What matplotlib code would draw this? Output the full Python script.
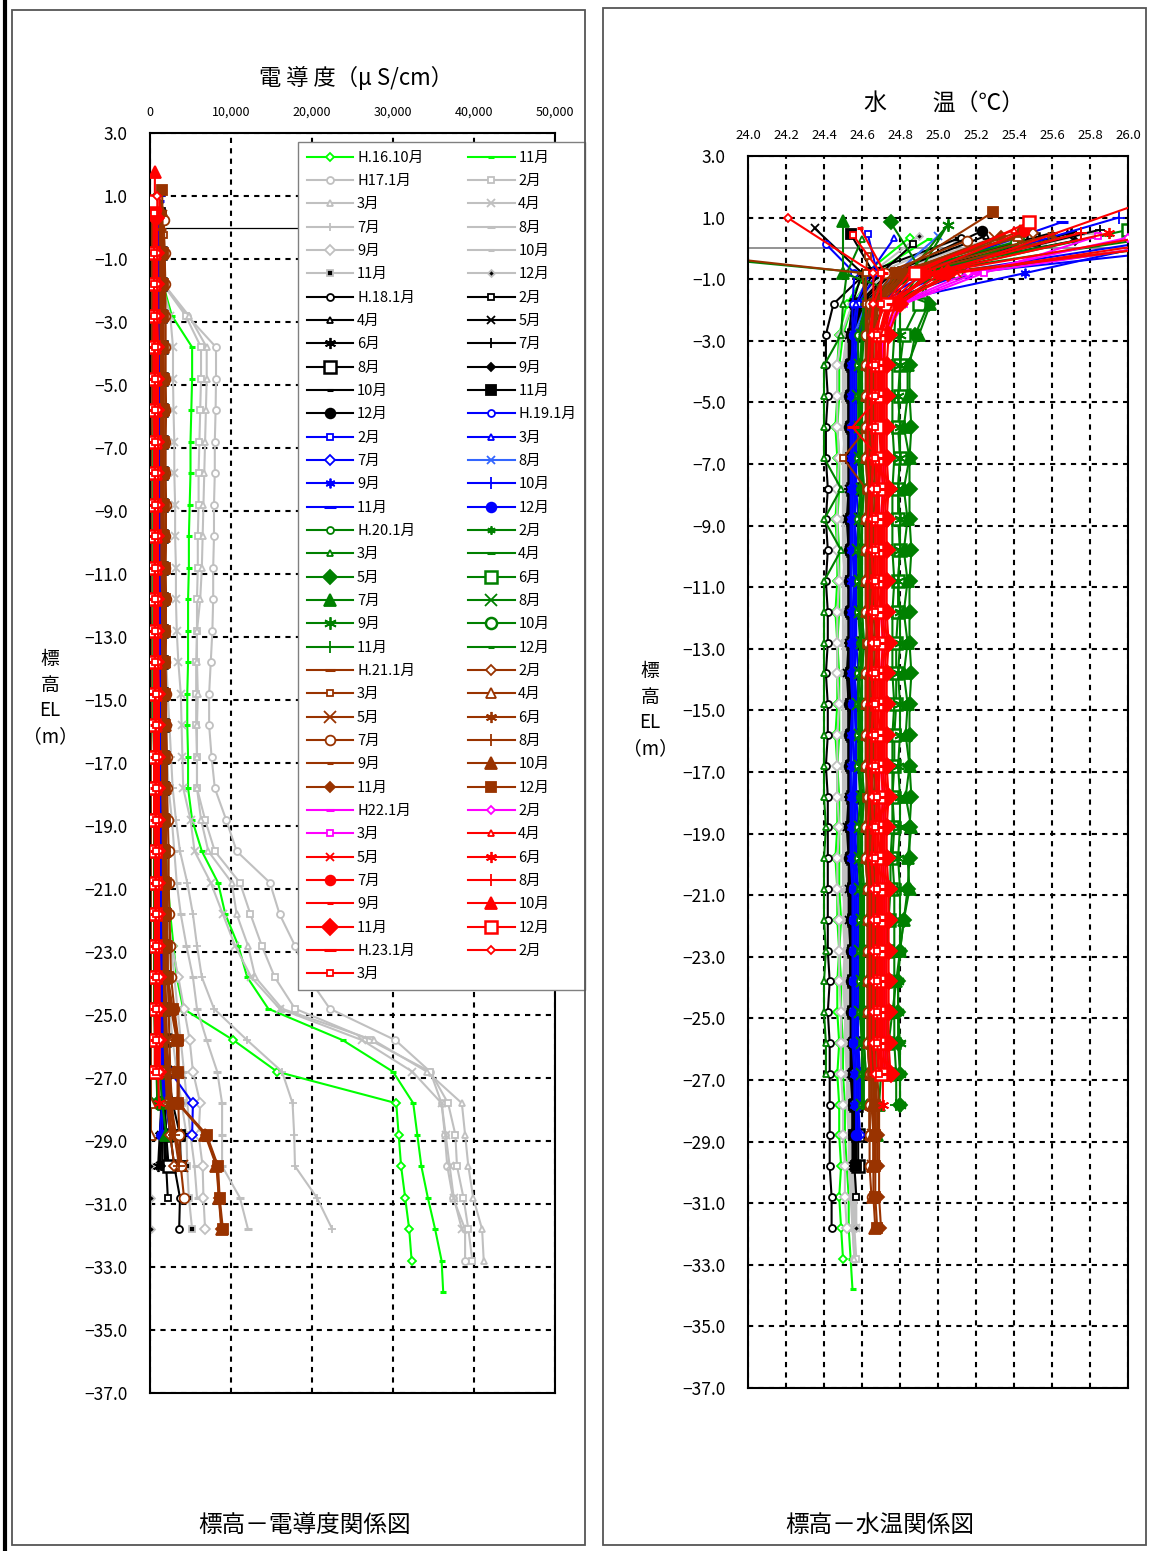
import matplotlib
matplotlib.use('Agg')
import matplotlib.pyplot as plt
from matplotlib.patches import Rectangle
from matplotlib.lines import Line2D
from matplotlib.ticker import FuncFormatter

plt.rcParams['font.family'] = ['Noto Sans CJK JP', 'DejaVu Sans']
plt.rcParams['axes.unicode_minus'] = True

# ---------------- DATA ----------------
# measurement elevations below the surface reading (EL, m)
elev_levels = [-0.8, -1.8, -2.8, -3.8, -4.8, -5.8, -6.8, -7.8, -8.8, -9.8, -10.8, -11.8,
               -12.8, -13.8, -14.8, -15.8, -16.8, -17.8, -18.8, -19.8, -20.8, -21.8, -22.8,
               -23.8, -24.8, -25.8, -26.8, -27.8, -28.8, -29.8, -30.8, -31.8, -32.8, -33.8]

labels = ['H.16.10月', '11月',
          'H17.1月', '2月', '3月', '4月', '7月', '8月', '9月', '10月', '11月', '12月',
          'H.18.1月', '2月', '4月', '5月', '6月', '7月', '8月', '9月', '10月', '11月', '12月',
          'H.19.1月', '2月', '3月', '7月', '8月', '9月', '10月', '11月', '12月',
          'H.20.1月', '2月', '3月', '4月', '5月', '6月', '7月', '8月', '9月', '10月', '11月', '12月',
          'H.21.1月', '2月', '3月', '4月', '5月', '6月', '7月', '8月', '9月', '10月', '11月', '12月',
          'H22.1月', '2月', '3月', '4月', '5月', '6月', '7月', '8月', '9月', '10月', '11月', '12月',
          'H.23.1月', '2月', '3月']

# elevation of the surface (first) reading of each survey
top_el = [0.35, 0.30,
          0.20, 0.20, 0.25, 0.30, 0.45, 0.50, 0.40, 0.35, 0.30, 0.40,
          0.35, 0.15, 0.40, 0.66, 0.50, 0.60, 0.30, 0.25, 0.50, 0.47, 0.56,
          0.14, 0.47, 0.34, 0.30, 0.40, 0.50, 1.00, 0.85, 0.30,
          0.20, 0.76, 0.30, -0.20, 0.85, 0.60, 0.90, 0.50, 0.76, 0.40, 0.20, 0.45,
          -0.05, 0.50, -0.25, 0.40, 0.35, 0.45, 0.25, 0.50, 0.30, 0.55, 0.40, 1.18,
          0.50, 0.35, 0.40, 0.60, 0.40, 0.50, 0.55, 0.50, 0.66, 1.75, 0.30, 0.85,
          0.60, 0.99, 0.45]

# electric conductivity (uS/cm): surface, then elev_levels in order
cond_h16 = [
    [800, 900, 1000, 1000, 1100, 1100, 1100, 1200, 1200, 1200, 1300, 1300, 1300, 1400, 1400, 1500, 1500, 1600, 1700, 1800, 2000, 2200, 2500, 2900, 3300, 4100, 10300, 15700, 30400, 30700, 31000, 31500, 32000, 32300],
    [1000, 1200, 1600, 2700, 5200, 5200, 5100, 5000, 5000, 4900, 4800, 4800, 4700, 4700, 4700, 4600, 4600, 4700, 4700, 5200, 6400, 8400, 9300, 10900, 12000, 14600, 23800, 30000, 32500, 33000, 33500, 34300, 35200, 36000, 36200],
]
cond_h17 = [
    [1200, 1400, 1700, 4600, 8150, 8150, 8100, 8000, 8000, 7900, 7900, 7800, 7800, 7700, 7500, 7300, 7300, 7600, 8000, 9400, 10700, 14800, 16000, 17900, 19500, 22200, 30300, 34600, 36000, 36400, 36700, 37400, 38900, 38900],
    [1100, 1300, 1600, 4400, 6300, 6300, 6200, 6100, 6000, 6000, 5900, 5900, 5800, 5800, 5700, 5700, 5700, 5800, 5800, 6800, 8000, 11100, 12400, 13800, 15400, 17900, 27200, 34600, 36800, 37700, 37900, 38700, 39300, 39800],
    [1100, 1300, 1700, 4800, 7000, 7000, 6900, 6800, 6700, 6600, 6500, 6400, 6200, 5800, 5800, 5900, 5800, 5800, 5800, 6300, 7200, 10100, 10700, 12100, 13000, 16300, 27600, 34200, 38500, 38900, 39300, 39900, 41000, 41200],
    [1000, 1200, 1500, 2500, 2840, 2840, 2900, 3000, 3000, 3100, 3100, 3200, 3200, 3300, 3500, 3800, 3900, 4000, 4100, 5000, 5500, 7500, 9000, 10500, 12500, 16000, 26200, 32400, 36000, 36500, 37000, 37500, 38500],
    [900, 1100, 1200, 1300, 1400, 1500, 1500, 1600, 1600, 1700, 1700, 1800, 1800, 1900, 2000, 2200, 2400, 2600, 2800, 3200, 3700, 4600, 5300, 5800, 6400, 7900, 12000, 16300, 17600, 17800, 17900, 20600, 22500],
    [900, 1000, 1100, 1200, 1300, 1300, 1400, 1400, 1500, 1500, 1600, 1600, 1700, 1700, 1800, 1900, 2000, 2100, 2300, 2700, 3000, 3300, 3800, 4500, 5300, 5800, 7000, 8300, 8900, 8900, 8900, 11100, 12100],
    [900, 1000, 1000, 1100, 1100, 1200, 1200, 1200, 1300, 1300, 1300, 1400, 1400, 1400, 1500, 1500, 1600, 1600, 1700, 1800, 1900, 2000, 2200, 2700, 3500, 4200, 4900, 5300, 6200, 6000, 6500, 6600, 6800],
    [900, 1000, 1100, 1200, 1200, 1300, 1300, 1300, 1400, 1400, 1400, 1500, 1500, 1500, 1600, 1600, 1700, 1700, 1800, 1900, 2000, 2100, 2300, 2600, 3000, 3400, 3800, 4200, 4600, 5000, 5500, 5800],
    [800, 900, 1000, 1000, 1100, 1100, 1100, 1200, 1200, 1200, 1300, 1300, 1300, 1300, 1400, 1400, 1400, 1500, 1500, 1600, 1600, 1700, 1800, 1900, 2100, 2400, 2800, 3300, 3900, 4500, 4600, 4800, 5200],
    [300, 250, 200, 150, 120, 110, 100, 100, 110, 100, 100, 110, 100, 100, 120, 100, 100, 110, 100, 100, 120, 100, 110, 100, 100, 120, 110, 100, 100, 110, 100, 120, 100],
]
cond_h18 = [
    [900, 1000, 1100, 1100, 1100, 1200, 1200, 1200, 1200, 1200, 1300, 1300, 1300, 1300, 1300, 1400, 1400, 1400, 1400, 1500, 1500, 1500, 1600, 1600, 1700, 1700, 1800, 1900, 2000, 2500, 3000, 3700, 3600],
    [1000, 1100, 1200, 1200, 1200, 1300, 1300, 1300, 1300, 1300, 1300, 1400, 1400, 1400, 1400, 1400, 1500, 1500, 1500, 1500, 1500, 1600, 1600, 1600, 1700, 1700, 1700, 1800, 1800, 1900, 2000, 2200],
    [1000, 1100, 1100, 1200, 1200, 1200, 1200, 1300, 1300, 1300, 1300, 1300, 1300, 1400, 1400, 1400, 1400, 1400, 1500, 1500, 1500, 1500, 1500, 1600, 1600, 1600, 1700, 1700, 1700, 1800, 1800],
    [1100, 1200, 1200, 1200, 1300, 1300, 1300, 1300, 1300, 1400, 1400, 1400, 1400, 1400, 1400, 1500, 1500, 1500, 1500, 1500, 1500, 1600, 1600, 1600, 1600, 1600, 1700, 1700, 1500, 1300, 1200],
    [1000, 1100, 1100, 1100, 1200, 1200, 1200, 1200, 1200, 1200, 1300, 1300, 1300, 1300, 1300, 1300, 1300, 1400, 1400, 1400, 1400, 1400, 1400, 1500, 1500, 1500, 1500, 1600, 1400, 1200, 1000],
    [1200, 1300, 1300, 1300, 1300, 1400, 1400, 1400, 1400, 1400, 1400, 1500, 1500, 1500, 1500, 1500, 1500, 1500, 1600, 1600, 1600, 1600, 1600, 1700, 1700, 1700, 1700, 1800, 1700, 1600, 1500],
    [1100, 1200, 1200, 1200, 1300, 1300, 1300, 1300, 1300, 1300, 1400, 1400, 1400, 1400, 1400, 1400, 1500, 1500, 1500, 1500, 1500, 1500, 1600, 1600, 1600, 1600, 1700, 1700, 1800, 2000, 2300],
    [1000, 1100, 1100, 1200, 1200, 1200, 1200, 1200, 1300, 1300, 1300, 1300, 1300, 1300, 1400, 1400, 1400, 1400, 1400, 1400, 1500, 1500, 1500, 1500, 1500, 1600, 1600, 1600, 1500, 1400, 1300],
    [1100, 1200, 1200, 1200, 1200, 1300, 1300, 1300, 1300, 1300, 1300, 1400, 1400, 1400, 1400, 1400, 1400, 1500, 1500, 1500, 1500, 1500, 1600, 1600, 1600, 1600, 1700, 1700, 1800, 1900],
    [1200, 1300, 1300, 1300, 1400, 1400, 1400, 1400, 1400, 1500, 1500, 1500, 1500, 1500, 1500, 1600, 1600, 1600, 1600, 1600, 1700, 1700, 1700, 1800, 1800, 1900, 2000, 2200, 2800, 3700, 3800],
    [1000, 1100, 1100, 1100, 1200, 1200, 1200, 1200, 1200, 1300, 1300, 1300, 1300, 1300, 1300, 1400, 1400, 1400, 1400, 1400, 1400, 1500, 1500, 1500, 1500, 1600, 1600, 1700, 1800, 2000],
]
cond_h19 = [
    [900, 1000, 1000, 1000, 1100, 1100, 1100, 1100, 1100, 1100, 1200, 1200, 1200, 1200, 1200, 1200, 1200, 1300, 1300, 1300, 1300, 1300, 1300, 1400, 1400, 1400, 1400, 1500, 1500, 1200],
    [1000, 1100, 1100, 1100, 1100, 1200, 1200, 1200, 1200, 1200, 1200, 1300, 1300, 1300, 1300, 1300, 1300, 1300, 1400, 1400, 1400, 1400, 1400, 1400, 1500, 1500, 1500, 1600, 2000, 2500],
    [900, 1000, 1000, 1000, 1000, 1100, 1100, 1100, 1100, 1100, 1100, 1100, 1200, 1200, 1200, 1200, 1200, 1200, 1200, 1300, 1300, 1300, 1300, 1300, 1300, 1400, 1400, 1500, 1600],
    [1000, 1100, 1100, 1100, 1100, 1100, 1200, 1200, 1200, 1200, 1200, 1200, 1300, 1300, 1300, 1300, 1300, 1300, 1400, 1400, 1400, 1400, 1500, 1500, 1500, 1600, 1800, 2500, 5300, 5200],
    [900, 1000, 1000, 1100, 1100, 1100, 1100, 1100, 1100, 1200, 1200, 1200, 1200, 1200, 1200, 1300, 1300, 1300, 1300, 1300, 1300, 1400, 1400, 1400, 1400, 1500, 1500, 1600, 1800],
    [1000, 1000, 1100, 1100, 1100, 1100, 1200, 1200, 1200, 1200, 1200, 1200, 1200, 1300, 1300, 1300, 1300, 1300, 1300, 1400, 1400, 1400, 1400, 1400, 1500, 1500, 1500, 1600, 1700],
    [1100, 1100, 1100, 1200, 1200, 1200, 1200, 1200, 1300, 1300, 1300, 1300, 1300, 1300, 1300, 1400, 1400, 1400, 1400, 1400, 1400, 1500, 1500, 1500, 1500, 1600, 1600, 1700, 1800],
    [1000, 1100, 1100, 1100, 1100, 1200, 1200, 1200, 1200, 1200, 1200, 1200, 1300, 1300, 1300, 1300, 1300, 1300, 1300, 1400, 1400, 1400, 1400, 1400, 1400, 1500, 1500, 1600, 1700],
    [900, 1000, 1000, 1000, 1100, 1100, 1100, 1100, 1100, 1200, 1200, 1200, 1200, 1200, 1200, 1200, 1300, 1300, 1300, 1300, 1300, 1300, 1400, 1400, 1400, 1400, 1500, 1500, 1600, 1500],
]
cond_h20 = [
    [500, 500, 500, 500, 500, 600, 600, 600, 600, 600, 600, 600, 600, 600, 700, 700, 700, 700, 700, 700, 700, 700, 800, 800, 800, 800, 800, 900, 900],
    [400, 400, 400, 500, 500, 500, 500, 500, 500, 500, 600, 600, 600, 600, 600, 600, 600, 600, 700, 700, 700, 700, 700, 700, 700, 800, 800, 800, 900],
    [300, 300, 300, 300, 300, 300, 400, 400, 400, 400, 400, 400, 400, 400, 400, 400, 400, 500, 500, 500, 500, 500, 500, 500, 500, 500, 600, 600],
    [400, 400, 400, 400, 500, 500, 500, 500, 500, 500, 500, 500, 600, 600, 600, 600, 600, 600, 600, 600, 700, 700, 700, 700, 700, 700, 800, 800],
    [500, 500, 500, 500, 600, 600, 600, 600, 600, 600, 600, 600, 700, 700, 700, 700, 700, 700, 700, 800, 800, 800, 800, 800, 800, 900, 900, 900, 1000],
    [600, 600, 600, 600, 600, 700, 700, 700, 700, 700, 700, 700, 700, 800, 800, 800, 800, 800, 800, 800, 900, 900, 900, 900, 900, 1000, 1000, 1000],
    [600, 600, 600, 700, 700, 700, 700, 700, 700, 700, 800, 800, 800, 800, 800, 800, 800, 900, 900, 900, 900, 900, 900, 1000, 1000, 1000, 1100, 1200, 1500, 2000],
    [500, 500, 500, 500, 500, 500, 600, 600, 600, 600, 600, 600, 600, 600, 600, 700, 700, 700, 700, 700, 700, 700, 800, 800, 800, 800, 800, 900, 900],
    [500, 500, 600, 600, 600, 600, 600, 600, 700, 700, 700, 700, 700, 700, 700, 700, 800, 800, 800, 800, 800, 800, 900, 900, 900, 900, 1000, 1000, 1100],
    [400, 400, 400, 400, 400, 500, 500, 500, 500, 500, 500, 500, 500, 500, 600, 600, 600, 600, 600, 600, 600, 600, 700, 700, 700, 700, 700, 800],
    [500, 500, 500, 500, 600, 600, 600, 600, 600, 600, 600, 700, 700, 700, 700, 700, 700, 700, 700, 800, 800, 800, 800, 800, 900, 900, 900, 1000, 1000],
    [400, 400, 400, 500, 500, 500, 500, 500, 500, 500, 500, 500, 600, 600, 600, 600, 600, 600, 600, 600, 600, 700, 700, 700, 700, 700, 700, 800],
]
cond_h21 = [
    [1300, 1400, 1400, 1400, 1400, 1500, 1500, 1500, 1500, 1500, 1500, 1500, 1500, 1600, 1600, 1600, 1600, 1600, 1600, 1600, 1700, 1700, 1700, 1700, 1800, 1800, 1900, 2000, 2200, 2500],
    [1200, 1300, 1300, 1300, 1400, 1400, 1400, 1400, 1400, 1400, 1500, 1500, 1500, 1500, 1500, 1500, 1500, 1600, 1600, 1600, 1600, 1600, 1700, 1700, 1700, 1800, 1800, 1900, 2100, 2500, 3000],
    [1700, 1800, 1800, 1900, 1900, 1900, 2000, 1900, 1900, 1900, 2000, 1900, 1900, 2000, 1900, 1900, 2000, 1900, 1900, 2000, 2000, 2100, 2100, 2200, 2200, 2300, 2400, 2500, 2700, 2900],
    [150, 120, 100, 100, 110, 100, 100, 120, 100, 100, 110, 100, 100, 120, 100, 100, 110, 100, 100, 120, 100, 110, 100, 100, 120, 100, 110, 100, 120, 100],
    [1300, 1400, 1400, 1400, 1400, 1500, 1500, 1500, 1500, 1500, 1500, 1500, 1600, 1600, 1600, 1600, 1600, 1600, 1700, 1700, 1700, 1700, 1800, 1800, 1900, 2000, 2100, 2300, 2600, 3200, 4000],
    [1200, 1300, 1300, 1400, 1400, 1400, 1400, 1400, 1400, 1500, 1500, 1500, 1500, 1500, 1500, 1500, 1600, 1600, 1600, 1600, 1600, 1700, 1700, 1700, 1800, 1800, 1900, 2000, 2400, 3000, 3800],
    [1700, 1800, 1900, 1900, 1900, 1900, 1900, 1900, 1900, 2000, 1900, 1900, 2000, 1900, 1900, 2000, 2000, 2100, 2100, 2200, 2300, 2300, 2400, 2500, 2600, 3000, 3500, 3500, 3500, 3600, 3800, 4200],
    [1300, 1400, 1400, 1400, 1500, 1500, 1500, 1500, 1500, 1500, 1500, 1600, 1600, 1600, 1600, 1600, 1600, 1700, 1700, 1700, 1700, 1700, 1800, 1800, 1800, 1900, 2000, 2200, 2500, 3000, 3600],
    [1200, 1300, 1300, 1300, 1300, 1400, 1400, 1400, 1400, 1400, 1400, 1400, 1500, 1500, 1500, 1500, 1500, 1500, 1500, 1600, 1600, 1600, 1600, 1700, 1700, 1800, 1900, 2000, 2300, 2700],
    [1400, 1500, 1500, 1500, 1600, 1600, 1600, 1600, 1600, 1600, 1700, 1700, 1700, 1700, 1700, 1700, 1800, 1800, 1800, 1800, 1900, 1900, 1900, 2000, 2100, 2600, 3300, 3400, 3400, 6800, 8200, 8500, 8900],
    [1300, 1400, 1400, 1500, 1500, 1500, 1500, 1500, 1500, 1600, 1600, 1600, 1600, 1600, 1600, 1700, 1700, 1700, 1700, 1700, 1800, 1800, 1800, 1900, 2000, 2700, 3400, 3500, 3500, 6900, 8300, 8500, 8800],
    [1500, 1600, 1600, 1600, 1600, 1700, 1700, 1700, 1700, 1700, 1700, 1800, 1800, 1800, 1800, 1800, 1800, 1900, 1900, 1900, 1900, 2000, 2000, 2100, 2200, 2800, 3500, 3500, 3500, 7000, 8400, 8600, 9000],
]
cond_h22 = [
    [800, 800, 800, 800, 800, 900, 900, 900, 900, 900, 900, 900, 900, 900, 900, 900, 1000, 1000, 1000, 1000, 1000, 1000, 1000, 1000, 1100, 1100, 1100, 1200],
    [700, 700, 700, 800, 800, 800, 800, 800, 800, 800, 800, 800, 900, 900, 900, 900, 900, 900, 900, 900, 900, 900, 1000, 1000, 1000, 1000, 1000, 1100],
    [800, 800, 800, 800, 900, 900, 900, 900, 900, 900, 900, 900, 900, 1000, 1000, 1000, 1000, 1000, 1000, 1000, 1000, 1000, 1100, 1100, 1100, 1100, 1100, 1200],
    [600, 600, 600, 600, 600, 600, 700, 700, 700, 700, 700, 700, 700, 700, 700, 700, 700, 800, 800, 800, 800, 800, 800, 800, 800, 900, 900, 900],
    [500, 500, 500, 500, 600, 600, 600, 600, 600, 600, 600, 600, 600, 600, 700, 700, 700, 700, 700, 700, 700, 700, 700, 800, 800, 800, 800, 900],
    [600, 600, 600, 700, 700, 700, 700, 700, 700, 700, 700, 700, 800, 800, 800, 800, 800, 800, 800, 800, 800, 900, 900, 900, 900, 900, 1000, 1000, 1100],
    [700, 700, 700, 700, 700, 800, 800, 800, 800, 800, 800, 800, 800, 800, 800, 800, 900, 900, 900, 900, 900, 900, 900, 900, 1000, 1000, 1000, 1000],
    [600, 600, 600, 600, 700, 700, 700, 700, 700, 700, 700, 700, 700, 700, 700, 800, 800, 800, 800, 800, 800, 800, 800, 900, 900, 900, 900, 1000],
    [500, 500, 500, 600, 600, 600, 600, 600, 600, 600, 600, 600, 600, 700, 700, 700, 700, 700, 700, 700, 700, 700, 700, 800, 800, 800, 800, 800],
    [600, 600, 600, 600, 600, 700, 700, 700, 700, 700, 700, 700, 700, 700, 700, 700, 700, 800, 800, 800, 800, 800, 800, 800, 800, 800, 900, 900],
    [700, 700, 700, 700, 800, 800, 800, 800, 800, 800, 800, 800, 800, 800, 800, 900, 900, 900, 900, 900, 900, 900, 900, 900, 1000, 1000, 1000, 1000],
    [400, 400, 400, 400, 400, 400, 400, 500, 500, 500, 500, 500, 500, 500, 500, 500, 500, 500, 500, 500, 600, 600, 600, 600, 600, 600, 600, 600],
]
cond_h23 = [
    [500, 500, 500, 500, 500, 600, 600, 600, 600, 600, 600, 600, 600, 600, 600, 600, 700, 700, 700, 700, 700, 700, 700, 700, 700, 800, 800, 800],
    [900, 900, 900, 900, 1000, 1000, 1000, 1000, 1000, 1000, 1000, 1000, 1000, 1000, 1000, 1100, 1100, 1100, 1100, 1100, 1100, 1100, 1100, 1100, 1200, 1200, 1200, 1200],
    [500, 500, 500, 500, 600, 600, 600, 600, 600, 600, 600, 600, 600, 600, 600, 700, 700, 700, 700, 700, 700, 700, 700, 700, 800, 800, 800, 800],
]

# water temperature (deg C): surface, then elev_levels in order
temp_h16 = [
    [24.85, 24.62, 24.52, 24.48, 24.47, 24.47, 24.46, 24.47, 24.47, 24.46, 24.47, 24.47, 24.46, 24.47, 24.47, 24.47, 24.46, 24.47, 24.47, 24.47, 24.46, 24.47, 24.47, 24.48, 24.47, 24.47, 24.48, 24.47, 24.48, 24.48, 24.49, 24.48, 24.49, 24.50],
    [24.95, 24.66, 24.55, 24.50, 24.48, 24.48, 24.47, 24.48, 24.48, 24.47, 24.48, 24.48, 24.48, 24.47, 24.48, 24.48, 24.48, 24.47, 24.48, 24.48, 24.48, 24.48, 24.49, 24.48, 24.49, 24.49, 24.50, 24.50, 24.51, 24.51, 24.52, 24.53, 24.53, 24.54, 24.55],
]
temp_h17 = [
    [25.35, 24.75, 24.58, 24.52, 24.50, 24.50, 24.51, 24.50, 24.50, 24.50, 24.51, 24.50, 24.50, 24.51, 24.50, 24.50, 24.51, 24.50, 24.50, 24.51, 24.50, 24.50, 24.51, 24.51, 24.50, 24.51, 24.51, 24.52, 24.52, 24.53, 24.53, 24.54, 24.55, 24.56],
    [25.55, 24.80, 24.60, 24.53, 24.51, 24.51, 24.52, 24.51, 24.51, 24.52, 24.51, 24.51, 24.52, 24.51, 24.51, 24.52, 24.51, 24.51, 24.52, 24.51, 24.51, 24.52, 24.51, 24.52, 24.52, 24.51, 24.52, 24.53, 24.53, 24.54, 24.54, 24.55, 24.56, 24.57],
    [25.40, 24.78, 24.59, 24.52, 24.50, 24.50, 24.50, 24.51, 24.50, 24.50, 24.50, 24.51, 24.50, 24.50, 24.50, 24.51, 24.50, 24.50, 24.51, 24.50, 24.50, 24.51, 24.50, 24.51, 24.51, 24.51, 24.52, 24.52, 24.53, 24.53, 24.54, 24.55, 24.55, 24.56],
    [25.60, 24.82, 24.62, 24.54, 24.52, 24.52, 24.52, 24.53, 24.52, 24.52, 24.52, 24.53, 24.52, 24.52, 24.53, 24.52, 24.52, 24.52, 24.53, 24.52, 24.52, 24.53, 24.52, 24.53, 24.53, 24.53, 24.54, 24.54, 24.55, 24.55, 24.56, 24.56, 24.57],
    [25.75, 24.85, 24.63, 24.54, 24.51, 24.51, 24.51, 24.52, 24.51, 24.51, 24.52, 24.51, 24.51, 24.52, 24.51, 24.51, 24.52, 24.51, 24.51, 24.52, 24.51, 24.52, 24.52, 24.52, 24.53, 24.53, 24.53, 24.54, 24.54, 24.55, 24.55, 24.56, 24.57],
    [25.80, 24.88, 24.64, 24.55, 24.50, 24.50, 24.50, 24.51, 24.50, 24.50, 24.50, 24.51, 24.50, 24.50, 24.51, 24.50, 24.50, 24.51, 24.50, 24.50, 24.51, 24.51, 24.51, 24.52, 24.52, 24.52, 24.53, 24.53, 24.54, 24.54, 24.55, 24.55, 24.56],
    [25.45, 24.70, 24.55, 24.49, 24.47, 24.47, 24.47, 24.48, 24.47, 24.47, 24.47, 24.48, 24.47, 24.47, 24.47, 24.48, 24.47, 24.47, 24.47, 24.48, 24.47, 24.47, 24.48, 24.48, 24.48, 24.49, 24.49, 24.49, 24.50, 24.50, 24.51, 24.51, 24.52],
    [25.30, 24.72, 24.57, 24.53, 24.52, 24.52, 24.52, 24.53, 24.52, 24.52, 24.52, 24.53, 24.52, 24.52, 24.53, 24.52, 24.52, 24.52, 24.53, 24.52, 24.52, 24.53, 24.52, 24.53, 24.53, 24.53, 24.54, 24.54, 24.54, 24.55, 24.55, 24.56],
    [25.10, 24.68, 24.56, 24.53, 24.52, 24.52, 24.52, 24.52, 24.53, 24.52, 24.52, 24.52, 24.53, 24.52, 24.52, 24.52, 24.53, 24.52, 24.52, 24.52, 24.53, 24.53, 24.53, 24.53, 24.54, 24.54, 24.54, 24.55, 24.55, 24.56, 24.56, 24.57, 24.57],
    [24.90, 24.65, 24.56, 24.54, 24.53, 24.53, 24.53, 24.54, 24.53, 24.53, 24.53, 24.54, 24.53, 24.53, 24.53, 24.54, 24.53, 24.53, 24.53, 24.54, 24.53, 24.53, 24.54, 24.54, 24.54, 24.54, 24.55, 24.55, 24.55, 24.56, 24.56, 24.56, 24.57],
]
temp_h18 = [
    [25.12, 24.62, 24.45, 24.41, 24.41, 24.42, 24.41, 24.41, 24.42, 24.41, 24.42, 24.41, 24.42, 24.42, 24.41, 24.42, 24.42, 24.41, 24.42, 24.42, 24.42, 24.42, 24.42, 24.42, 24.43, 24.42, 24.43, 24.43, 24.43, 24.43, 24.43, 24.44, 24.44],
    [24.87, 24.70, 24.56, 24.54, 24.53, 24.53, 24.53, 24.53, 24.54, 24.53, 24.53, 24.53, 24.54, 24.53, 24.53, 24.53, 24.54, 24.53, 24.53, 24.53, 24.54, 24.54, 24.54, 24.54, 24.54, 24.55, 24.55, 24.55, 24.55, 24.56, 24.56, 24.57],
    [25.25, 24.74, 24.58, 24.55, 24.54, 24.54, 24.54, 24.55, 24.54, 24.54, 24.54, 24.55, 24.54, 24.54, 24.54, 24.55, 24.54, 24.54, 24.54, 24.55, 24.54, 24.55, 24.55, 24.55, 24.55, 24.55, 24.56, 24.56, 24.56, 24.56, 24.57],
    [24.35, 24.60, 24.55, 24.53, 24.53, 24.53, 24.53, 24.53, 24.53, 24.52, 24.53, 24.53, 24.53, 24.53, 24.52, 24.53, 24.53, 24.53, 24.53, 24.52, 24.53, 24.53, 24.53, 24.54, 24.54, 24.54, 24.54, 24.54, 24.55, 24.55, 24.55],
    [25.70, 24.86, 24.62, 24.55, 24.54, 24.54, 24.54, 24.54, 24.55, 24.54, 24.54, 24.54, 24.55, 24.54, 24.54, 24.54, 24.55, 24.54, 24.54, 24.54, 24.55, 24.55, 24.55, 24.55, 24.55, 24.56, 24.56, 24.56, 24.56, 24.57, 24.57],
    [25.85, 24.90, 24.64, 24.55, 24.53, 24.53, 24.53, 24.53, 24.53, 24.53, 24.53, 24.53, 24.53, 24.53, 24.53, 24.53, 24.53, 24.53, 24.53, 24.54, 24.53, 24.54, 24.54, 24.54, 24.54, 24.54, 24.55, 24.55, 24.55, 24.55, 24.56],
    [25.50, 24.82, 24.60, 24.56, 24.55, 24.55, 24.55, 24.56, 24.55, 24.55, 24.55, 24.56, 24.55, 24.55, 24.55, 24.56, 24.55, 24.55, 24.55, 24.56, 24.55, 24.56, 24.56, 24.56, 24.56, 24.56, 24.57, 24.57, 24.57, 24.58, 24.58],
    [25.72, 24.84, 24.61, 24.55, 24.54, 24.54, 24.54, 24.54, 24.54, 24.55, 24.54, 24.54, 24.54, 24.54, 24.55, 24.54, 24.54, 24.54, 24.54, 24.55, 24.54, 24.55, 24.55, 24.55, 24.55, 24.55, 24.56, 24.56, 24.56, 24.56, 24.57],
    [25.60, 24.80, 24.60, 24.54, 24.53, 24.53, 24.53, 24.53, 24.53, 24.54, 24.53, 24.53, 24.53, 24.53, 24.54, 24.53, 24.53, 24.53, 24.53, 24.54, 24.53, 24.54, 24.54, 24.54, 24.54, 24.55, 24.55, 24.55, 24.55, 24.56],
    [24.54, 24.66, 24.57, 24.55, 24.54, 24.54, 24.54, 24.54, 24.55, 24.54, 24.54, 24.54, 24.54, 24.55, 24.54, 24.54, 24.54, 24.54, 24.55, 24.54, 24.54, 24.55, 24.55, 24.55, 24.55, 24.55, 24.56, 24.56, 24.56, 24.56, 24.57],
    [25.23, 24.76, 24.59, 24.54, 24.53, 24.53, 24.53, 24.53, 24.54, 24.53, 24.53, 24.53, 24.53, 24.54, 24.53, 24.53, 24.53, 24.53, 24.54, 24.53, 24.53, 24.54, 24.54, 24.54, 24.54, 24.54, 24.55, 24.55, 24.55, 24.56],
]
temp_h19 = [
    [24.41, 24.56, 24.55, 24.55, 24.55, 24.55, 24.55, 24.56, 24.55, 24.55, 24.55, 24.56, 24.55, 24.55, 24.55, 24.56, 24.55, 24.55, 24.55, 24.56, 24.55, 24.56, 24.56, 24.56, 24.56, 24.56, 24.57, 24.57, 24.57, 24.57],
    [24.63, 24.68, 24.58, 24.56, 24.56, 24.56, 24.56, 24.56, 24.57, 24.56, 24.56, 24.56, 24.56, 24.57, 24.56, 24.56, 24.56, 24.56, 24.57, 24.56, 24.56, 24.57, 24.57, 24.57, 24.57, 24.57, 24.57, 24.58, 24.58, 24.58],
    [24.77, 24.64, 24.57, 24.55, 24.55, 24.55, 24.55, 24.55, 24.55, 24.56, 24.55, 24.55, 24.55, 24.55, 24.56, 24.55, 24.55, 24.55, 24.55, 24.56, 24.55, 24.56, 24.56, 24.56, 24.56, 24.56, 24.56, 24.57, 24.57],
    [26.20, 25.05, 24.66, 24.57, 24.56, 24.56, 24.56, 24.57, 24.56, 24.56, 24.56, 24.57, 24.56, 24.56, 24.56, 24.57, 24.56, 24.56, 24.56, 24.57, 24.56, 24.57, 24.57, 24.57, 24.57, 24.57, 24.58, 24.58, 24.58, 24.59],
    [25.00, 24.78, 24.62, 24.56, 24.55, 24.55, 24.55, 24.55, 24.55, 24.55, 24.55, 24.55, 24.55, 24.55, 24.55, 24.55, 24.56, 24.55, 24.55, 24.55, 24.55, 24.56, 24.56, 24.56, 24.56, 24.56, 24.56, 24.57, 24.57],
    [26.40, 25.46, 24.70, 24.56, 24.54, 24.54, 24.54, 24.54, 24.54, 24.54, 24.54, 24.54, 24.54, 24.54, 24.54, 24.55, 24.54, 24.54, 24.54, 24.54, 24.54, 24.55, 24.55, 24.55, 24.55, 24.55, 24.55, 24.56, 24.56],
    [25.95, 24.95, 24.66, 24.58, 24.57, 24.57, 24.57, 24.57, 24.57, 24.58, 24.57, 24.57, 24.57, 24.57, 24.58, 24.57, 24.57, 24.57, 24.57, 24.58, 24.57, 24.58, 24.58, 24.58, 24.58, 24.58, 24.58, 24.59, 24.59],
    [25.65, 24.88, 24.64, 24.57, 24.56, 24.56, 24.56, 24.56, 24.56, 24.56, 24.57, 24.56, 24.56, 24.56, 24.56, 24.56, 24.57, 24.56, 24.56, 24.56, 24.56, 24.57, 24.57, 24.57, 24.57, 24.57, 24.57, 24.58, 24.58],
    [26.80, 25.15, 24.68, 24.56, 24.55, 24.55, 24.55, 24.55, 24.55, 24.55, 24.55, 24.56, 24.55, 24.55, 24.55, 24.55, 24.55, 24.56, 24.55, 24.55, 24.55, 24.56, 24.56, 24.56, 24.56, 24.56, 24.56, 24.57, 24.57, 24.57],
]
temp_h20 = [
    [25.40, 24.80, 24.62, 24.58, 24.58, 24.58, 24.58, 24.58, 24.59, 24.58, 24.58, 24.58, 24.58, 24.59, 24.58, 24.58, 24.58, 24.58, 24.59, 24.58, 24.58, 24.59, 24.59, 24.59, 24.59, 24.59, 24.60, 24.60, 24.60],
    [25.05, 24.85, 24.65, 24.60, 24.59, 24.59, 24.59, 24.59, 24.59, 24.60, 24.59, 24.59, 24.59, 24.59, 24.60, 24.59, 24.59, 24.59, 24.59, 24.60, 24.59, 24.60, 24.60, 24.60, 24.60, 24.60, 24.60, 24.61, 24.61],
    [24.60, 24.52, 24.50, 24.49, 24.40, 24.40, 24.40, 24.40, 24.49, 24.40, 24.49, 24.40, 24.40, 24.40, 24.40, 24.40, 24.40, 24.40, 24.40, 24.41, 24.40, 24.40, 24.40, 24.41, 24.40, 24.40, 24.41, 24.41],
    [23.60, 24.62, 24.61, 24.60, 24.60, 24.60, 24.60, 24.60, 24.61, 24.60, 24.60, 24.60, 24.60, 24.61, 24.60, 24.60, 24.60, 24.60, 24.61, 24.60, 24.60, 24.61, 24.61, 24.61, 24.61, 24.61, 24.61, 24.62],
    [24.75, 24.92, 24.95, 24.88, 24.85, 24.85, 24.86, 24.85, 24.85, 24.85, 24.86, 24.85, 24.85, 24.85, 24.86, 24.85, 24.85, 24.85, 24.86, 24.85, 24.85, 24.84, 24.82, 24.80, 24.79, 24.79, 24.79, 24.80, 24.80],
    [26.00, 24.95, 24.90, 24.82, 24.80, 24.80, 24.79, 24.80, 24.79, 24.79, 24.80, 24.79, 24.79, 24.78, 24.78, 24.78, 24.77, 24.77, 24.76, 24.76, 24.75, 24.75, 24.74, 24.73, 24.72, 24.73, 24.73, 24.74],
    [24.50, 24.50, 24.96, 24.90, 24.84, 24.84, 24.82, 24.85, 24.82, 24.84, 24.82, 24.84, 24.82, 24.84, 24.82, 24.84, 24.83, 24.85, 24.83, 24.86, 24.84, 24.85, 24.82, 24.80, 24.78, 24.76, 24.74, 24.70, 24.69, 24.68],
    [26.30, 24.90, 24.63, 24.60, 24.59, 24.58, 24.59, 24.59, 24.60, 24.59, 24.58, 24.59, 24.59, 24.60, 24.59, 24.58, 24.59, 24.59, 24.60, 24.59, 24.59, 24.59, 24.60, 24.59, 24.60, 24.59, 24.60, 24.60, 24.60],
    [25.05, 24.90, 24.80, 24.80, 24.80, 24.79, 24.80, 24.80, 24.79, 24.80, 24.80, 24.79, 24.80, 24.80, 24.79, 24.80, 24.80, 24.79, 24.80, 24.80, 24.79, 24.80, 24.80, 24.80, 24.79, 24.79, 24.80, 24.80, 24.80],
    [26.60, 25.10, 24.72, 24.64, 24.63, 24.63, 24.63, 24.63, 24.63, 24.64, 24.63, 24.63, 24.63, 24.63, 24.64, 24.63, 24.63, 24.63, 24.63, 24.64, 24.63, 24.64, 24.64, 24.64, 24.64, 24.64, 24.65, 24.65],
    [25.45, 24.94, 24.78, 24.77, 24.76, 24.76, 24.76, 24.77, 24.76, 24.76, 24.76, 24.77, 24.76, 24.76, 24.76, 24.77, 24.76, 24.76, 24.76, 24.77, 24.76, 24.77, 24.77, 24.77, 24.77, 24.77, 24.77, 24.78, 24.78],
    [25.90, 24.84, 24.64, 24.61, 24.60, 24.60, 24.60, 24.60, 24.61, 24.60, 24.60, 24.60, 24.60, 24.61, 24.60, 24.60, 24.60, 24.60, 24.61, 24.60, 24.60, 24.61, 24.61, 24.61, 24.61, 24.61, 24.61, 24.62],
]
temp_h21 = [
    [23.50, 24.60, 24.62, 24.63, 24.63, 24.63, 24.63, 24.64, 24.63, 24.63, 24.63, 24.64, 24.63, 24.63, 24.63, 24.64, 24.63, 24.63, 24.63, 24.64, 24.63, 24.64, 24.64, 24.64, 24.64, 24.64, 24.65, 24.65, 24.65, 24.66],
    [25.50, 24.78, 24.66, 24.64, 24.64, 24.64, 24.64, 24.64, 24.65, 24.64, 24.64, 24.64, 24.64, 24.65, 24.64, 24.64, 24.64, 24.64, 24.65, 24.64, 24.64, 24.65, 24.65, 24.65, 24.65, 24.65, 24.66, 24.66, 24.66, 24.66, 24.67],
    [24.63, 24.62, 24.62, 24.62, 24.62, 24.63, 24.63, 24.50, 24.62, 24.62, 24.62, 24.62, 24.63, 24.62, 24.62, 24.62, 24.62, 24.63, 24.62, 24.62, 24.62, 24.63, 24.63, 24.63, 24.63, 24.63, 24.63, 24.64, 24.64, 24.64],
    [25.42, 24.76, 24.65, 24.63, 24.62, 24.62, 24.62, 24.62, 24.63, 24.62, 24.62, 24.62, 24.62, 24.63, 24.62, 24.62, 24.62, 24.62, 24.63, 24.62, 24.62, 24.63, 24.63, 24.63, 24.63, 24.63, 24.63, 24.64, 24.64, 24.64],
    [25.30, 24.80, 24.67, 24.65, 24.64, 24.64, 24.64, 24.64, 24.65, 24.64, 24.64, 24.64, 24.64, 24.65, 24.64, 24.64, 24.64, 24.64, 24.65, 24.64, 24.64, 24.65, 24.65, 24.65, 24.65, 24.65, 24.65, 24.66, 24.66, 24.66, 24.66],
    [25.60, 24.84, 24.68, 24.65, 24.65, 24.65, 24.65, 24.66, 24.65, 24.65, 24.65, 24.66, 24.65, 24.65, 24.65, 24.66, 24.65, 24.65, 24.65, 24.66, 24.65, 24.66, 24.66, 24.66, 24.66, 24.66, 24.66, 24.67, 24.67, 24.67, 24.67],
    [25.15, 24.72, 24.64, 24.62, 24.62, 24.62, 24.62, 24.62, 24.63, 24.62, 24.62, 24.62, 24.62, 24.63, 24.62, 24.62, 24.62, 24.62, 24.63, 24.62, 24.62, 24.63, 24.63, 24.63, 24.63, 24.63, 24.63, 24.64, 24.64, 24.64, 24.64, 24.65],
    [25.75, 24.86, 24.69, 24.66, 24.66, 24.66, 24.66, 24.66, 24.67, 24.66, 24.66, 24.66, 24.66, 24.67, 24.66, 24.66, 24.66, 24.66, 24.67, 24.66, 24.66, 24.67, 24.67, 24.67, 24.67, 24.67, 24.67, 24.67, 24.68, 24.68, 24.68],
    [26.50, 25.00, 24.72, 24.66, 24.65, 24.65, 24.65, 24.65, 24.65, 24.66, 24.65, 24.65, 24.65, 24.65, 24.66, 24.65, 24.65, 24.65, 24.65, 24.66, 24.65, 24.66, 24.66, 24.66, 24.66, 24.66, 24.66, 24.67, 24.67, 24.67],
    [25.43, 24.82, 24.68, 24.65, 24.64, 24.64, 24.64, 24.64, 24.65, 24.64, 24.64, 24.64, 24.64, 24.65, 24.64, 24.64, 24.64, 24.64, 24.65, 24.64, 24.64, 24.65, 24.65, 24.65, 24.65, 24.65, 24.65, 24.66, 24.66, 24.66, 24.66, 24.66, 24.67],
    [25.33, 24.80, 24.68, 24.67, 24.67, 24.67, 24.67, 24.67, 24.68, 24.67, 24.67, 24.67, 24.67, 24.68, 24.67, 24.67, 24.67, 24.67, 24.68, 24.67, 24.67, 24.68, 24.68, 24.68, 24.68, 24.68, 24.68, 24.68, 24.69, 24.69, 24.69, 24.69, 24.70],
    [25.29, 24.78, 24.67, 24.65, 24.65, 24.65, 24.65, 24.65, 24.66, 24.65, 24.65, 24.65, 24.65, 24.66, 24.65, 24.65, 24.65, 24.65, 24.66, 24.65, 24.65, 24.66, 24.66, 24.66, 24.66, 24.66, 24.66, 24.66, 24.67, 24.67, 24.67, 24.67, 24.68],
]
temp_h22 = [
    [26.60, 25.20, 24.80, 24.72, 24.71, 24.71, 24.71, 24.71, 24.72, 24.71, 24.71, 24.71, 24.71, 24.72, 24.71, 24.71, 24.71, 24.71, 24.72, 24.71, 24.71, 24.72, 24.72, 24.72, 24.72, 24.72, 24.72, 24.73],
    [26.00, 25.16, 24.78, 24.71, 24.70, 24.70, 24.70, 24.70, 24.71, 24.70, 24.70, 24.70, 24.70, 24.71, 24.70, 24.70, 24.70, 24.70, 24.71, 24.70, 24.70, 24.71, 24.71, 24.71, 24.71, 24.71, 24.71, 24.72],
    [25.84, 25.24, 24.82, 24.72, 24.71, 24.71, 24.71, 24.72, 24.71, 24.71, 24.71, 24.72, 24.71, 24.71, 24.71, 24.72, 24.71, 24.71, 24.71, 24.72, 24.71, 24.72, 24.72, 24.72, 24.72, 24.72, 24.72, 24.73],
    [25.40, 24.85, 24.72, 24.66, 24.65, 24.65, 24.65, 24.66, 24.65, 24.65, 24.65, 24.66, 24.65, 24.65, 24.65, 24.66, 24.65, 24.65, 24.65, 24.66, 24.65, 24.66, 24.66, 24.66, 24.66, 24.66, 24.66, 24.67],
    [26.40, 25.10, 24.76, 24.68, 24.67, 24.67, 24.67, 24.67, 24.68, 24.67, 24.67, 24.67, 24.67, 24.68, 24.67, 24.67, 24.67, 24.67, 24.68, 24.67, 24.67, 24.68, 24.68, 24.68, 24.68, 24.68, 24.68, 24.69],
    [25.90, 24.98, 24.74, 24.69, 24.69, 24.69, 24.69, 24.70, 24.69, 24.69, 24.69, 24.70, 24.69, 24.69, 24.69, 24.70, 24.69, 24.69, 24.69, 24.70, 24.69, 24.70, 24.70, 24.70, 24.70, 24.70, 24.70, 24.71, 24.71],
    [25.45, 24.92, 24.74, 24.70, 24.70, 24.70, 24.70, 24.70, 24.71, 24.70, 24.70, 24.70, 24.70, 24.71, 24.70, 24.70, 24.70, 24.70, 24.71, 24.70, 24.70, 24.71, 24.71, 24.71, 24.71, 24.71, 24.71, 24.72],
    [25.75, 24.96, 24.75, 24.72, 24.72, 24.72, 24.72, 24.72, 24.73, 24.72, 24.72, 24.72, 24.72, 24.73, 24.72, 24.72, 24.72, 24.72, 24.73, 24.72, 24.72, 24.73, 24.73, 24.73, 24.73, 24.73, 24.73, 24.74],
    [24.59, 24.72, 24.66, 24.64, 24.63, 24.63, 24.63, 24.63, 24.64, 24.63, 24.63, 24.63, 24.63, 24.64, 24.63, 24.63, 24.63, 24.63, 24.64, 24.63, 24.63, 24.64, 24.64, 24.64, 24.64, 24.64, 24.64, 24.65],
    [26.20, 25.02, 24.78, 24.72, 24.71, 24.71, 24.71, 24.71, 24.72, 24.71, 24.71, 24.71, 24.71, 24.72, 24.71, 24.71, 24.71, 24.71, 24.72, 24.71, 24.71, 24.72, 24.72, 24.72, 24.72, 24.72, 24.72, 24.73],
    [26.50, 25.05, 24.80, 24.74, 24.73, 24.73, 24.73, 24.73, 24.74, 24.73, 24.73, 24.73, 24.73, 24.74, 24.73, 24.73, 24.73, 24.73, 24.74, 24.73, 24.73, 24.74, 24.74, 24.74, 24.74, 24.74, 24.74, 24.75],
    [25.48, 24.88, 24.73, 24.69, 24.68, 24.68, 24.68, 24.68, 24.69, 24.68, 24.68, 24.68, 24.68, 24.69, 24.68, 24.68, 24.68, 24.68, 24.69, 24.68, 24.68, 24.69, 24.69, 24.69, 24.69, 24.69, 24.69, 24.70],
]
temp_h23 = [
    [26.30, 24.98, 24.76, 24.70, 24.69, 24.69, 24.55, 24.69, 24.69, 24.68, 24.69, 24.69, 24.68, 24.69, 24.69, 24.69, 24.68, 24.69, 24.69, 24.69, 24.68, 24.69, 24.69, 24.69, 24.70, 24.70, 24.70, 24.70],
    [24.21, 24.66, 24.66, 24.65, 24.65, 24.65, 24.65, 24.66, 24.65, 24.65, 24.65, 24.66, 24.65, 24.65, 24.65, 24.66, 24.65, 24.65, 24.65, 24.66, 24.65, 24.66, 24.66, 24.66, 24.66, 24.66, 24.66, 24.67],
    [24.55, 24.70, 24.70, 24.68, 24.67, 24.67, 24.67, 24.67, 24.68, 24.67, 24.67, 24.67, 24.67, 24.68, 24.67, 24.67, 24.67, 24.67, 24.68, 24.67, 24.67, 24.68, 24.68, 24.68, 24.68, 24.68, 24.68, 24.69],
]

cond_all = cond_h16 + cond_h17 + cond_h18 + cond_h19 + cond_h20 + cond_h21 + cond_h22 + cond_h23
temp_all = temp_h16 + temp_h17 + temp_h18 + temp_h19 + temp_h20 + temp_h21 + temp_h22 + temp_h23

# ---------------- STYLES ----------------
LIME = '#00FF00'; GRAY = '#C0C0C0'; K = '#000000'; B = '#0000FF'; B2 = '#3366FF'
G = '#008000'; BR = '#993300'; M = '#FF00FF'; R = '#FF0000'
AST = (6, 2, 0)
# (color, marker, size, face) face: True hollow, False filled, or a colour
styles = [
    (LIME, 'D', 4, True), (LIME, '_', 5, False),
    (GRAY, 'o', 5, True), (GRAY, 's', 5, True), (GRAY, '^', 5, True), (GRAY, 'x', 6, False),
    (GRAY, '+', 6, False), (GRAY, '_', 6, False), (GRAY, 'D', 5, True), (GRAY, '_', 5, False),
    (GRAY, 's', 4.5, 'k'), (GRAY, 'D', 3.5, 'k'),
    (K, 'o', 5, True), (K, 's', 5, True), (K, '^', 5, True), (K, 'x', 6, False), (K, AST, 8, False),
    (K, '+', 7, False), (K, 's', 8, True), (K, 'D', 4, False), (K, '_', 5, False), (K, 's', 7, False),
    (K, 'o', 7, False),
    (B, 'o', 5, True), (B, 's', 5, True), (B, '^', 5, True), (B, 'D', 5, True), (B2, 'x', 6, False),
    (B, AST, 7, False), (B, '+', 9, False), (B, '_', 8, False), (B, 'o', 7, False),
    (G, 'o', 5, True), (G, AST, 6, False), (G, '^', 5, True), (G, '_', 6, False), (G, 'D', 7, False),
    (G, 's', 8, True), (G, '^', 9, False), (G, 'x', 9, False), (G, AST, 9, False), (G, 'o', 8, True),
    (G, '+', 9, False), (G, '_', 4, False),
    (BR, '_', 7, False), (BR, 'D', 5, True), (BR, 's', 5, True), (BR, '^', 7, True), (BR, 'x', 9, False),
    (BR, AST, 8, False), (BR, 'o', 7, True), (BR, '+', 8, False), (BR, '_', 5, False), (BR, '^', 8, False),
    (BR, 'D', 5, False), (BR, 's', 7, False),
    (M, '_', 6, False), (M, 'D', 4, True), (M, 's', 5, True),
    (R, '^', 5, True), (R, 'x', 6, False), (R, AST, 8, False), (R, 'o', 7, False), (R, '+', 8, False),
    (R, '_', 5, False), (R, '^', 9, False), (R, 'D', 8, False), (R, 's', 9, True), (R, '_', 8, False),
    (R, 'D', 4.5, True), (R, 's', 4, True),
]

assert len(cond_all) == len(temp_all) == len(labels) == len(top_el) == len(styles)

# ---------------- FIGURE ----------------
W, H = 1161, 1551
fig = plt.figure(figsize=(W / 100, H / 100), dpi=100)


def fx(px):
    return px / W


def fy(py):
    return 1 - py / H


# panel frames
fig.add_artist(Rectangle((fx(12), fy(1545)), fx(585) - fx(12), fy(10) - fy(1545),
                         transform=fig.transFigure, fill=False, ec='#555555', lw=1.3))
fig.add_artist(Rectangle((fx(603), fy(1545)), fx(1146) - fx(603), fy(8) - fy(1545),
                         transform=fig.transFigure, fill=False, ec='#555555', lw=1.3))
fig.add_artist(Line2D([fx(5), fx(5)], [0, 1], transform=fig.transFigure, color='k', lw=3))

axL = fig.add_axes([fx(150), fy(1393), fx(555) - fx(150), fy(133) - fy(1393)])
axR = fig.add_axes([fx(748), fy(1388), fx(1128) - fx(748), fy(156) - fy(1388)])

grid_kw = dict(color='k', lw=1.5, linestyle=(0, (2.5, 2.5)))
ytk = [3 - 2 * i for i in range(21)]

for ax in (axL, axR):
    ax.set_ylim(-37, 3)
    ax.set_yticks(ytk)
    ax.yaxis.set_major_formatter(FuncFormatter(lambda v, p: f'{v:.1f}'.replace('-', '\u2212')))
    ax.grid(True, **grid_kw)
    ax.set_axisbelow(True)
    ax.xaxis.tick_top()
    ax.tick_params(axis='both', length=0)
    ax.tick_params(axis='y', labelsize=12.5, pad=16)
    for s in ax.spines.values():
        s.set_color('k')
        s.set_linewidth(1.5)

axL.tick_params(axis='x', labelsize=9, pad=10)
axR.tick_params(axis='x', labelsize=9.5, pad=10)

axL.set_xlim(0, 50000)
axL.set_xticks([0, 10000, 20000, 30000, 40000, 50000])
axL.xaxis.set_major_formatter(FuncFormatter(lambda v, p: f'{v:,.0f}'))
axR.set_xlim(24.0, 26.0)
axR.set_xticks([24.0 + 0.2 * i for i in range(11)])
axR.xaxis.set_major_formatter(FuncFormatter(lambda v, p: f'{v:.1f}'))

axL.axhline(0.0, color='k', lw=0.9, zorder=1.5)
axR.axhline(0.0, color='#808080', lw=1.2, zorder=1.5)


def draw(ax, values):
    handles = []
    for i, vals in enumerate(values):
        col, mk, ms, face = styles[i]
        dep = ([top_el[i]] + elev_levels)[:len(vals)]
        if face is True:
            mfc = 'white'
        elif face is False:
            mfc = col
        else:
            mfc = face
        if mk == '_':
            mew = 2.2
        elif face is True and ms >= 8:
            mew = 1.8
        else:
            mew = 1.3
        ln, = ax.plot(vals, dep, color=col, lw=1.5, marker=mk, ms=ms, mfc=mfc, mec=col,
                      mew=mew, zorder=2 + i * 0.01)
        handles.append(ln)
    return handles


hL = draw(axL, cond_all)
draw(axR, temp_all)

order = list(range(0, len(labels), 2)) + list(range(1, len(labels), 2))
x0 = (298 - 150) / 405
wl = (585 - 298) / 405
ytop = (1393 - 142) / 1260
ybot = (1393 - 993) / 1260
leg = axL.legend([hL[j] for j in order], [labels[j] for j in order], ncol=2,
                 loc='upper left', bbox_to_anchor=(x0, ybot, wl, ytop - ybot), mode='expand',
                 frameon=True, fancybox=False, edgecolor='#808080', framealpha=1,
                 fontsize=10.5, handlelength=3.2, handletextpad=0.25, columnspacing=2.0,
                 labelspacing=0.64, borderpad=0.6, borderaxespad=0)
leg.get_frame().set_linewidth(1.0)
leg.set_zorder(20)

# titles and labels
fig.text(fx(356), fy(78), '電 導 度（μ S/cm）', ha='center', va='center', fontsize=16)
fig.text(fx(944), fy(103), '水　　温（℃）', ha='center', va='center', fontsize=16.5)
fig.text(fx(50), fy(698), '標\n高\nEL\n（m）', ha='center', va='center', fontsize=13.5,
         linespacing=1.3)
fig.text(fx(650), fy(710), '標\n高\nEL\n（m）', ha='center', va='center', fontsize=13.5,
         linespacing=1.3)
fig.text(fx(305), fy(1525), '標高－電導度関係図', ha='center', va='center', fontsize=17)
fig.text(fx(880), fy(1525), '標高－水温関係図', ha='center', va='center', fontsize=17)

fig.savefig('out.png', dpi=100)
